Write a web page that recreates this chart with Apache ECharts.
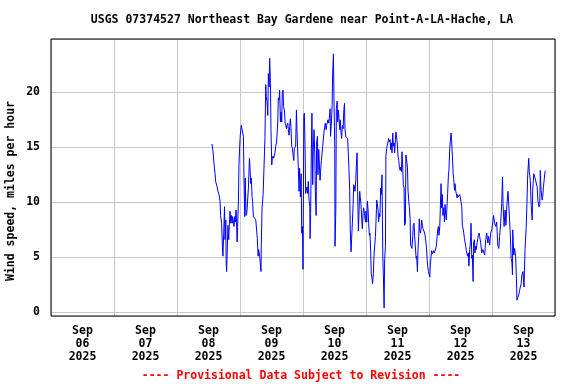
<!DOCTYPE html>
<html lang="en">
<head>
    <meta charset="UTF-8">
    <title>USGS 07374527 wind speed</title>
    <style>
        html, body { margin: 0; padding: 0; background: #fff; }
        #chart { width: 576px; height: 384px; }
    </style>
    <script src="https://cdn.jsdelivr.net/npm/echarts@6/dist/echarts.min.js"></script>
</head>
<body>
    <div id="chart"></div>
    <script>
        // x = hours since Sep 06 2025 00:00, y = wind speed (mph)
        var titleText = 'USGS 07374527 Northeast Bay Gardene near Point-A-LA-Hache, LA';
        var yName = 'Wind speed, miles per hour';
        var footText = '---- Provisional Data Subject to Revision ----';
        var dayLabels = ['Sep\n06\n2025', 'Sep\n07\n2025', 'Sep\n08\n2025', 'Sep\n09\n2025',
                         'Sep\n10\n2025', 'Sep\n11\n2025', 'Sep\n12\n2025', 'Sep\n13\n2025'];
        var yTicks = [0, 5, 10, 15, 20];

        var sep08 = [[61.3,15.3],[61.7,14.7],[62.1,13.5],[62.5,12.6],[62.7,11.9],[63.3,11.4],[63.6,11.0],[64.0,10.7],
            [64.4,10.1],[64.6,8.8],[65.0,8.1],[65.3,6.0],[65.5,5.1],[65.8,7.2],[66.1,9.6],[66.3,6.6],[66.6,8.4],
            [66.7,4.8],[66.9,3.7],[67.2,6.0],[67.4,7.9],[67.7,6.6],[67.9,7.8],[68.2,9.2],[68.5,8.1],[68.7,8.8],
            [69.0,8.1],[69.2,8.7],[69.5,8.2],[69.7,7.8],[70.0,8.7],[70.2,8.2],[70.5,9.3],[70.7,8.2],[70.9,6.4],
            [71.1,7.8],[71.4,10.1],[71.6,13.4],[71.9,15.2]];
        var sep09 = [[72.1,16.1],[72.5,17.0],[72.8,16.6],[73.0,16.7],[73.3,16.0],[73.5,12.3],[73.8,8.7],[74.0,12.2],
            [74.3,8.8],[74.6,9.0],[74.8,9.0],[75.2,11.3],[75.4,11.4],[75.6,14.0],[75.8,13.2],[76.1,11.7],[76.3,12.2],
            [76.6,10.5],[76.8,10.1],[77.1,8.7],[77.3,8.7],[77.6,8.7],[78.0,8.4],[78.4,8.5],[78.6,6.7],[78.9,5.1],
            [79.1,5.7],[79.5,5.1],[79.8,4.2],[80.0,3.7],[80.1,6.0],[80.4,9.5],[80.8,10.7],[81.2,10.8],[81.5,15.8],
            [81.8,20.7],[82.0,19.6],[82.3,19.2],[82.6,17.9],[82.8,21.7],[83.1,20.5],[83.3,23.1],[83.6,20.8],[83.8,16.6],
            [84.1,13.4],[84.3,14.0],[84.6,14.2],[84.8,14.0],[85.1,14.3],[85.3,14.5],[85.6,15.1],[85.9,15.4],[86.1,15.5],
            [86.4,17.3],[86.6,19.5],[86.9,19.3],[87.1,20.2],[87.4,17.3],[87.6,18.2],[87.9,17.3],[88.1,19.9],[88.4,20.2],
            [88.6,18.7],[88.9,18.4],[89.2,17.2],[89.4,17.0],[89.7,16.7],[89.9,17.0],[90.2,17.2],[90.4,16.6],[90.7,16.1],
            [90.9,16.9],[91.2,17.6],[91.4,16.9],[91.7,15.1],[92.0,14.9],[92.2,14.3],[92.5,13.8],[92.7,14.9],[93.0,14.9],
            [93.2,15.1],[93.5,18.4],[93.7,16.6],[94.0,16.7],[94.2,13.2],[94.5,11.0],[94.7,13.1],[95.0,10.5],[95.3,12.6],
            [95.5,7.2],[95.8,7.8]];
        var sep10 = [[96.0,3.9],[96.3,17.8],[96.5,18.1],[96.8,14.8],[97.0,10.8],[97.3,11.1],[97.5,11.4],[97.8,10.8],
            [98.0,11.9],[98.3,10.2],[98.6,9.6],[98.7,6.7],[98.9,9.0],[99.2,14.9],[99.4,18.1],[99.7,11.6],[99.9,14.6],
            [100.2,16.6],[100.5,14.3],[100.7,11.0],[101.0,8.8],[101.2,15.4],[101.5,16.0],[101.7,12.5],[102.0,14.8],
            [102.2,14.9],[102.5,12.0],[102.7,12.8],[103.0,13.8],[103.2,14.3],[103.5,15.1],[103.8,15.2],[104.0,16.4],
            [104.3,16.3],[104.5,17.2],[104.8,16.6],[105.0,17.0],[105.3,17.0],[105.5,17.5],[105.8,17.2],[106.0,17.6],
            [106.3,18.5],[106.5,16.0],[106.8,17.2],[107.1,18.8],[107.3,21.7],[107.6,23.5],[107.8,19.3],[108.1,14.9],
            [108.2,6.0],[108.5,9.3],[108.7,18.5],[109.0,19.2],[109.2,17.3],[109.5,18.4],[109.7,17.6],[110.0,16.6],
            [110.2,17.5],[110.5,16.3],[110.7,15.8],[111.0,17.0],[111.3,16.7],[111.5,18.2],[111.8,19.0],[112.0,16.6],
            [112.3,16.0],[112.5,16.0],[112.8,16.0],[113.0,15.8],[113.3,14.2],[113.5,13.0],[113.8,11.0],[114.0,7.5],
            [114.3,5.5],[114.5,6.6],[114.8,8.1],[115.1,9.8],[115.3,11.6],[115.6,11.4],[115.8,11.0],[116.1,12.0],
            [116.3,13.2],[116.6,14.5],[116.8,11.0],[117.1,7.4],[117.3,8.8],[117.6,11.0],[117.8,10.5],[118.1,9.8],
            [118.4,8.4],[118.6,7.6],[118.9,9.0],[119.1,9.5],[119.4,9.0],[119.5,8.8],[119.8,8.2]];
        var sep11 = [[120.0,9.2],[120.3,8.2],[120.5,10.1],[120.8,9.3],[121.0,8.1],[121.3,7.0],[121.5,7.2],[121.8,5.4],
            [122.0,3.5],[122.3,3.1],[122.5,2.6],[122.8,3.5],[123.1,5.4],[123.3,5.4],[123.6,6.9],[123.8,8.2],[124.1,10.2],
            [124.3,9.9],[124.6,9.3],[124.8,8.2],[125.1,9.0],[125.3,8.7],[125.6,11.3],[125.8,10.7],[126.1,12.5],
            [126.4,5.1],[126.6,3.5],[126.9,0.4],[127.1,4.8],[127.4,6.0],[127.6,14.3],[127.9,14.9],[128.1,15.2],
            [128.4,15.5],[128.6,15.8],[128.9,15.5],[129.2,15.7],[129.4,14.8],[129.7,15.4],[129.9,14.5],[130.2,16.3],
            [130.4,15.1],[130.7,15.4],[130.9,14.5],[131.2,15.7],[131.4,16.4],[131.7,16.3],[131.9,15.4],[132.2,14.2],
            [132.5,13.8],[132.7,13.2],[133.0,12.9],[133.2,13.2],[133.5,12.8],[133.7,14.6],[134.0,13.2],[134.2,11.6],
            [134.5,11.3],[134.7,7.9],[135.0,8.1],[135.2,14.3],[135.5,14.3],[135.8,13.2],[136.0,11.1],[136.3,10.1],
            [136.5,9.6],[136.8,8.5],[137.0,6.1],[137.3,6.0],[137.5,5.8],[137.8,6.9],[138.0,7.9],[138.3,8.1],[138.5,7.0],
            [138.8,6.9],[139.1,4.9],[139.3,5.1],[139.6,3.7],[139.8,5.7],[140.1,7.0],[140.3,8.5],[140.5,7.5],[140.7,7.2],
            [141.0,7.6],[141.2,8.4],[141.5,7.9],[141.7,7.6],[142.0,7.5],[142.2,7.3],[142.5,7.0],[142.7,6.9],[143.0,6.0],
            [143.3,4.8],[143.5,4.2],[143.8,3.7]];
        var sep12 = [[144.0,3.8],[144.3,3.2],[144.5,4.3],[144.8,5.1],[145.0,5.6],[145.3,5.3],[145.5,5.4],[145.8,5.6],
            [146.0,5.4],[146.3,5.6],[146.6,5.7],[146.8,6.0],[147.1,6.9],[147.3,7.5],[147.6,7.8],[147.8,7.0],[148.1,7.8],
            [148.3,9.3],[148.6,11.7],[148.8,9.5],[149.1,10.7],[149.3,8.8],[149.6,9.5],[149.9,8.2],[150.1,9.8],[150.4,8.8],
            [150.6,8.4],[150.9,9.9],[151.1,10.8],[151.4,12.5],[151.6,12.9],[151.9,14.9],[152.1,15.5],[152.4,16.3],
            [152.6,15.7],[152.9,14.2],[153.2,12.6],[153.4,12.2],[153.7,11.1],[153.9,11.7],[154.2,11.0],[154.4,10.8],
            [154.7,10.4],[154.9,10.7],[155.2,10.5],[155.4,10.5],[155.7,10.7],[155.9,10.5],[156.2,10.4],[156.5,9.6],
            [156.7,7.9],[157.0,7.6],[157.2,7.3],[157.5,6.7],[157.7,6.6],[158.0,6.0],[158.2,5.6],[158.5,5.3],[158.7,5.1],
            [159.0,5.4],[159.2,4.2],[159.5,5.7],[159.8,6.4],[160.0,8.1],[160.3,4.9],[160.5,5.2],[160.8,2.8],[161.0,6.3],
            [161.3,6.6],[161.5,5.4],[161.8,6.0],[162.0,5.7],[162.3,6.3],[162.6,6.7],[162.8,7.0],[163.1,7.2],[163.3,6.9],
            [163.7,6.3],[164.1,5.4],[164.5,5.7],[164.8,5.5],[165.2,5.2],[165.6,6.6],[166.0,7.2],[166.4,6.3],[166.7,6.9],
            [167.1,6.1],[167.5,7.2],[167.9,7.5]];
        var sep13 = [[168.3,8.2],[168.6,8.8],[169.0,8.1],[169.4,7.8],[169.8,8.2],[170.2,6.1],[170.6,5.8],[170.9,6.9],
            [171.3,8.1],[171.7,9.9],[172.0,12.3],[172.2,9.9],[172.6,7.8],[173.0,9.3],[173.3,7.9],[173.7,9.9],[174.1,11.0],
            [174.5,9.3],[174.9,7.5],[175.3,4.9],[175.6,4.5],[175.8,3.4],[175.9,7.5],[176.3,5.2],[176.6,5.8],[177.0,5.1],
            [177.3,3.1],[177.5,1.1],[177.9,1.2],[178.3,1.7],[178.7,2.2],[179.1,2.6],[179.4,3.4],[179.8,3.7],[180.2,2.3],
            [180.6,5.8],[181.0,7.6],[181.3,9.8],[181.6,12.5],[182.0,14.0],[182.2,12.8],[182.6,12.0],[182.9,9.8],
            [183.3,8.4],[183.5,11.1],[183.9,12.6],[184.3,12.3],[184.5,12.2],[184.9,12.3],[185.2,11.4],[185.5,10.1],
            [185.9,9.6],[186.2,9.8],[186.4,12.9],[186.7,11.1],[187.1,10.2],[187.3,10.5],[187.6,11.4],[187.9,11.4],
            [188.2,12.8],[188.5,12.9]];

        var windData = sep08.concat(sep09, sep10, sep11, sep12, sep13);

        var fontMono = '"DejaVu Sans Mono", "Liberation Mono", monospace';

        var chart = echarts.init(document.getElementById('chart'));
        var option = {
            animation: false,
            backgroundColor: '#fff',
            grid: {
                left: 51, top: 39, right: 21, bottom: 68,
                show: true,
                borderColor: '#000',
                borderWidth: 1,
                z: 10
            },
            xAxis: [
                {
                    type: 'category',
                    data: dayLabels,
                    boundaryGap: true,
                    position: 'bottom',
                    axisLine: { show: false },
                    axisTick: { show: false },
                    splitLine: { show: false },
                    axisLabel: {
                        interval: 0,
                        margin: 9,
                        color: '#000',
                        fontFamily: fontMono,
                        fontWeight: 'bold',
                        fontSize: 11.5,
                        lineHeight: 13
                    }
                },
                {
                    type: 'value',
                    min: 0,
                    max: 192,
                    interval: 24,
                    position: 'bottom',
                    axisLine: { show: false },
                    axisTick: { show: false },
                    axisLabel: { show: false },
                    splitLine: { lineStyle: { color: '#c8c8c8', width: 1 } }
                }
            ],
            yAxis: {
                type: 'value',
                min: -0.34,
                max: 24.85,
                splitNumber: 5,
                axisLine: { show: false },
                axisTick: { show: false },
                axisLabel: {
                    customValues: yTicks,
                    margin: 11,
                    color: '#000',
                    fontFamily: fontMono,
                    fontWeight: 'bold',
                    fontSize: 11.5
                },
                splitLine: { lineStyle: { color: '#c8c8c8', width: 1 } }
            },
            graphic: [
                {
                    type: 'text', x: 302, y: 20,
                    style: { text: titleText, fill: '#000', font: 'bold 11.5px ' + fontMono,
                             textAlign: 'center', textVerticalAlign: 'middle' }
                },
                {
                    type: 'text', x: 11, y: 191, rotation: Math.PI / 2,
                    style: { text: yName, fill: '#000', font: 'bold 11.5px ' + fontMono,
                             textAlign: 'center', textVerticalAlign: 'middle' }
                },
                {
                    type: 'text', x: 301, y: 376,
                    style: { text: footText, fill: '#ff0000', font: 'bold 11.5px ' + fontMono,
                             textAlign: 'center', textVerticalAlign: 'middle' }
                }
            ],
            series: [
                {
                    type: 'line',
                    xAxisIndex: 1,
                    data: windData,
                    showSymbol: false,
                    symbol: 'none',
                    lineStyle: { color: '#0000ff', width: 1 },
                    z: 5
                }
            ]
        };
        chart.setOption(option);
    </script>
</body>
</html>
